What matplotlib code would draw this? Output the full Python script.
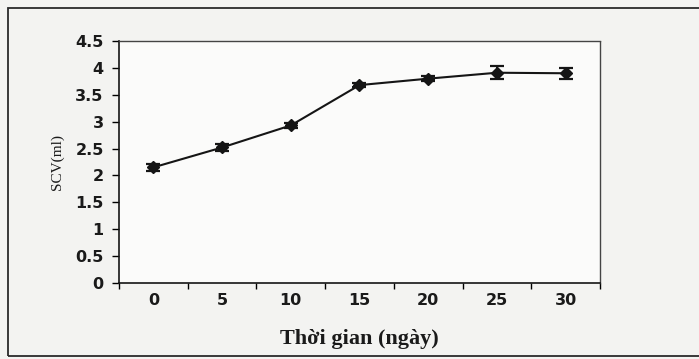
import numpy as np
import matplotlib
matplotlib.use('Agg')
import matplotlib.pyplot as plt
from matplotlib.patches import Rectangle

# Data
days = ['0', '5', '10', '15', '20', '25', '30']
scv = [2.15, 2.52, 2.93, 3.68, 3.80, 3.91, 3.90]
err = [0.07, 0.07, 0.04, 0.04, 0.05, 0.12, 0.10]
yticks = [0, 0.5, 1, 1.5, 2, 2.5, 3, 3.5, 4, 4.5]

fig = plt.figure(figsize=(6.99, 3.59), dpi=100)
fig.patch.set_facecolor('#f3f3f1')

# outer frame from the scanned page
fig.patches.append(Rectangle((8 / 699, 3 / 359), 1.0, 348 / 359, transform=fig.transFigure,
                             fill=False, edgecolor='#2a2a2a', linewidth=1.3, clip_on=False))

ax = fig.add_axes([119 / 699, 1 - 283 / 359, (600 - 119) / 699, (283 - 41) / 359])
ax.set_facecolor('#fbfbfa')

x = np.arange(len(days))
ax.errorbar(x, scv, yerr=err, color='#151515', marker='D', markersize=6,
            linewidth=1.5, elinewidth=1.4, capsize=5, capthick=1.6)

ax.set_xlim(-0.5, len(days) - 0.5)
ax.set_ylim(0, 4.5)
ax.set_yticks(yticks)
ax.set_yticklabels(['0', '0.5', '1', '1.5', '2', '2.5', '3', '3.5', '4', '4.5'],
                   fontfamily='DejaVu Sans', fontsize=11.5, fontweight='bold', color='#1a1a1a')

# Excel-style category axis: ticks between categories, labels centred
ax.set_xticks(np.arange(len(days) + 1) - 0.5)
ax.set_xticklabels([])
ax.set_xticks(x, minor=True)
ax.set_xticklabels(days, minor=True, fontfamily='DejaVu Sans', fontsize=11.5,
                   fontweight='bold', color='#1a1a1a')
ax.tick_params(axis='x', which='major', direction='out', length=4, width=1)
ax.tick_params(axis='x', which='minor', length=0, pad=7)
ax.tick_params(axis='y', direction='out', length=5, width=1, pad=6)

for side in ['left', 'bottom']:
    ax.spines[side].set_color('#151515')
    ax.spines[side].set_linewidth(1.2)
for side in ['top', 'right']:
    ax.spines[side].set_color('#444444')
    ax.spines[side].set_linewidth(1.0)
    ax.spines[side].set_linestyle((0, (4, 1)))

ax.set_ylabel('SCV(ml)', fontfamily='Liberation Serif', fontsize=11, labelpad=8, color='#1a1a1a')
ax.set_xlabel('Thời gian (ngày)', fontfamily='Liberation Serif', fontsize=16,
              fontweight='bold', labelpad=15, color='#1a1a1a')

plt.savefig('out.png', dpi=100, facecolor=fig.get_facecolor())
